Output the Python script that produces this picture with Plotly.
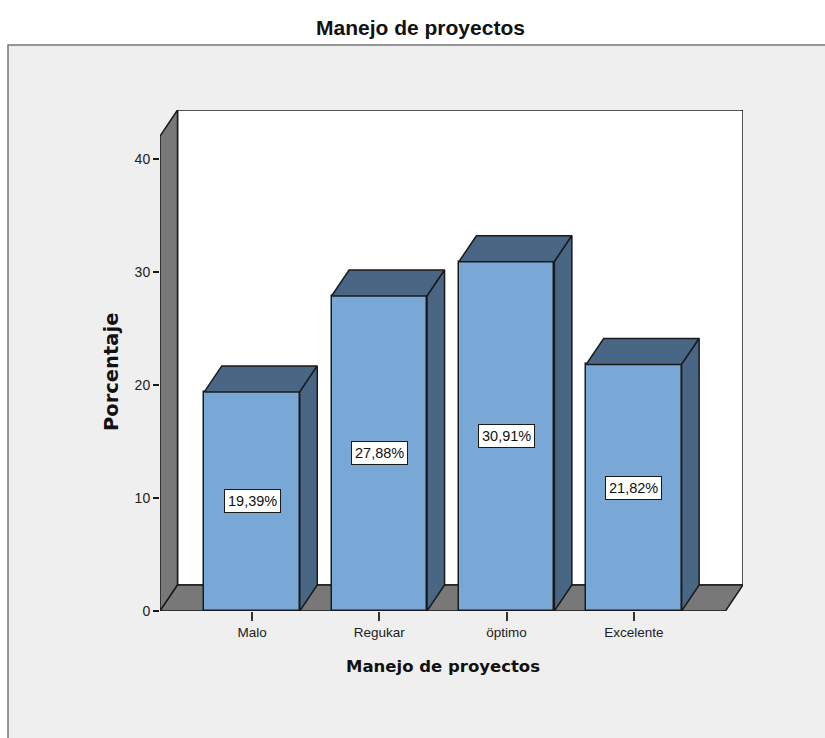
import plotly.graph_objects as go

categories = ["Malo", "Regukar", "öptimo", "Excelente"]
values = [19.39, 27.88, 30.91, 21.82]
labels = ["19,39%", "27,88%", "30,91%", "21,82%"]
y_ticks = [0, 10, 20, 30, 40]

W, H = 825, 738
L, R, T, B = 160, 743, 110, 611
xmin, xmax = -0.723, 3.857
ymax = 44.34
DX, DY = 0.1375, 2.3   # 3D depth offset in axis units
BW = 0.75
INK = "#1a1a1a"
FACE, DARK = "#7aa8d6", "#4a6685"
WALL = "#787878"
positions = list(range(len(categories)))


def px(x):
    return (x - L) / (R - L)


def py(y):
    return (B - y) / (B - T)


fig = go.Figure()
fig.add_trace(go.Bar(x=positions, y=values, width=BW, marker=dict(color=FACE, line=dict(color=INK, width=1.5)), hoverinfo="skip"))

for p, v in zip(positions, values):
    a, b = p - BW / 2, p + BW / 2
    fig.add_trace(go.Scatter(x=[a, b, b + DX, a + DX, a], y=[v, v, v + DY, v + DY, v], mode="lines", fill="toself",
                             fillcolor=DARK, line=dict(color=INK, width=1.5), hoverinfo="skip"))
    fig.add_trace(go.Scatter(x=[b, b + DX, b + DX, b, b], y=[0, DY, v + DY, v, 0], mode="lines", fill="toself",
                             fillcolor=DARK, line=dict(color=INK, width=1.5), hoverinfo="skip"))

shapes = [
    dict(type="rect", xref="paper", yref="paper", x0=px(8), x1=px(W + 10), y0=py(H + 10), y1=py(45),
         fillcolor="#efefef", line=dict(color="#777777", width=1.5), layer="below"),
    dict(type="rect", x0=xmin + DX, x1=xmax, y0=DY, y1=ymax, fillcolor="white",
         line=dict(color=INK, width=1.5), layer="below"),
    dict(type="path", path=f"M {xmin} 0 L {xmin + DX} {DY} L {xmin + DX} {ymax} L {xmin} {ymax - DY} Z",
         fillcolor=WALL, line=dict(color=INK, width=1.5), layer="below"),
    dict(type="path", path=f"M {xmin} 0 L {xmin + DX} {DY} L {xmax} {DY} L {xmax - DX} 0 Z",
         fillcolor=WALL, line=dict(color=INK, width=1.5), layer="below"),
]

annotations = [
    dict(x=p, y=v / 2, text=t, showarrow=False, bgcolor="white", bordercolor=INK, borderwidth=1, borderpad=3,
         font=dict(family="Liberation Sans", size=14.5, color="#111"))
    for p, v, t in zip(positions, values, labels)
]
annotations += [
    dict(xref="paper", yref="paper", x=px(420.5), y=py(27), text="Manejo de proyectos", showarrow=False,
         xanchor="center", yanchor="middle",
         font=dict(family="Liberation Sans", size=21, color="#111", weight="bold")),
    dict(xref="paper", yref="paper", x=px(443), y=py(666), text="Manejo de proyectos", showarrow=False,
         xanchor="center", yanchor="middle",
         font=dict(family="DejaVu Sans", size=16.5, color="#111", weight="bold")),
    dict(xref="paper", yref="paper", x=px(111), y=py(372), text="Porcentaje", showarrow=False, textangle=-90,
         xanchor="center", yanchor="middle",
         font=dict(family="DejaVu Sans", size=19.5, color="#111", weight="bold")),
]

fig.update_layout(
    width=W, height=H, margin=dict(l=L, r=W - R, t=T, b=H - B, autoexpand=False),
    paper_bgcolor="white", plot_bgcolor="rgba(0,0,0,0)", showlegend=False,
    shapes=shapes, annotations=annotations, bargap=0,
    font=dict(family="Liberation Sans", color="#222"),
)
fig.update_xaxes(range=[xmin, xmax], tickmode="array", tickvals=positions, ticktext=categories, ticks="outside",
                 ticklen=9, tickcolor="#333", tickwidth=1.5, showgrid=False, zeroline=False, showline=False,
                 tickfont=dict(size=13.5, color="#222"))
fig.update_yaxes(range=[0, ymax], tickmode="array", tickvals=y_ticks, ticks="outside", ticklen=6, tickcolor=INK,
                 tickwidth=1.5, showgrid=False, zeroline=False, showline=False, tickfont=dict(size=14, color="#222"))
fig.write_html("out.html", config={"displayModeBar": False},
               post_script="document.body.style.margin='0';document.documentElement.style.overflow='hidden';")
